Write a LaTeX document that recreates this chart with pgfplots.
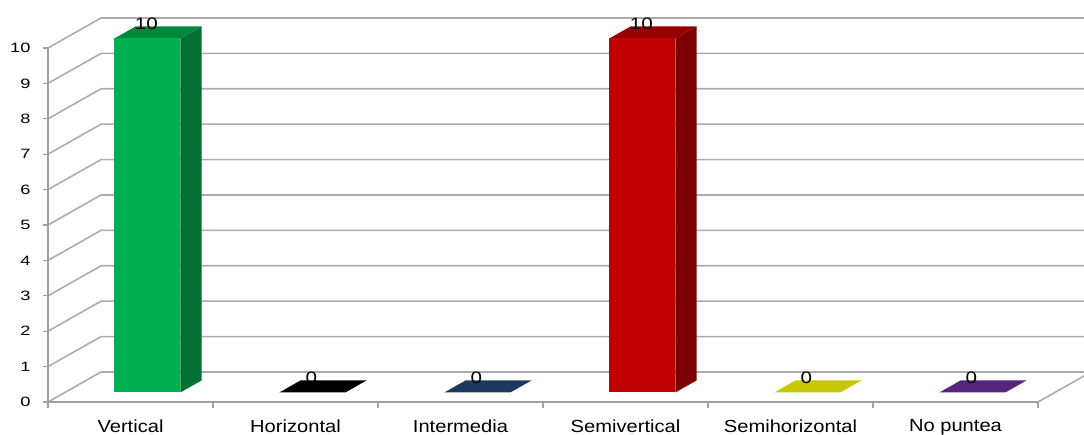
\documentclass[border=0pt]{standalone}
\usepackage{pgfplots}
\pgfplotsset{compat=1.18}
\usepackage{fontspec}
\setmainfont{Liberation Sans}
\newfontfamily\catfont[FakeStretch=1.15]{Liberation Sans}
\newfontfamily\tickfont[FakeStretch=1.35]{Liberation Sans}
\newfontfamily\labfont[FakeStretch=1.25]{Liberation Sans}
\definecolor{gridc}{RGB}{172,172,172}
\definecolor{axc}{RGB}{160,160,160}
\definecolor{gfront}{RGB}{0,176,80}
\definecolor{gtop}{RGB}{0,135,62}
\definecolor{gside}{RGB}{0,112,51}
\definecolor{rfront}{RGB}{192,0,0}
\definecolor{rtop}{RGB}{150,0,0}
\definecolor{rside}{RGB}{125,0,0}
\definecolor{ktop}{RGB}{0,0,0}
\definecolor{btop}{RGB}{27,56,95}
\definecolor{ytop}{RGB}{200,200,0}
\definecolor{ptop}{RGB}{86,37,125}
\begin{document}
\begin{tikzpicture}[x=1pt,y=1pt]
% ---------- 3D part: walls, floor and bars ----------
\begin{axis}[
  x={(165pt,0pt)}, y={(53pt,30pt)}, z={(0pt,35.4pt)},
  xmin=0, xmax=6, ymin=0, ymax=1, zmin=0, zmax=10,
  hide axis, clip=false,
  anchor=origin, at={(48pt,32pt)},
]
\pgfplotsinvokeforeach{0,...,10}{
  \addplot3[gridc, line width=1.6pt, forget plot] coordinates {(0,0,#1) (0,1,#1) (6.2,1,#1)};
}
\addplot3[gridc, line width=1.6pt, forget plot] coordinates {(6,0,0) (6,1,0)};
% Vertical = 10
\addplot3[fill=gside, draw=none] coordinates {(0.7,0.32,0) (0.7,0.72,0) (0.7,0.72,10) (0.7,0.32,10)} -- cycle;
\addplot3[fill=gtop, draw=none] coordinates {(0.3,0.32,10) (0.7,0.32,10) (0.7,0.72,10) (0.3,0.72,10)} -- cycle;
\addplot3[fill=gfront, draw=none] coordinates {(0.3,0.32,0) (0.7,0.32,0) (0.7,0.32,10) (0.3,0.32,10)} -- cycle;
% Horizontal = 0
\addplot3[fill=ktop, draw=none] coordinates {(1.3,0.32,0) (1.7,0.32,0) (1.7,0.72,0) (1.3,0.72,0)} -- cycle;
% Intermedia = 0
\addplot3[fill=btop, draw=none] coordinates {(2.3,0.32,0) (2.7,0.32,0) (2.7,0.72,0) (2.3,0.72,0)} -- cycle;
% Semivertical = 10
\addplot3[fill=rside, draw=none] coordinates {(3.7,0.32,0) (3.7,0.72,0) (3.7,0.72,10) (3.7,0.32,10)} -- cycle;
\addplot3[fill=rtop, draw=none] coordinates {(3.3,0.32,10) (3.7,0.32,10) (3.7,0.72,10) (3.3,0.72,10)} -- cycle;
\addplot3[fill=rfront, draw=none] coordinates {(3.3,0.32,0) (3.7,0.32,0) (3.7,0.32,10) (3.3,0.32,10)} -- cycle;
% Semihorizontal = 0
\addplot3[fill=ytop, draw=none] coordinates {(4.3,0.32,0) (4.7,0.32,0) (4.7,0.72,0) (4.3,0.72,0)} -- cycle;
% No puntea = 0
\addplot3[fill=ptop, draw=none] coordinates {(5.3,0.32,0) (5.7,0.32,0) (5.7,0.72,0) (5.3,0.72,0)} -- cycle;
% value labels
\begin{scope}[every node/.style={anchor=base, yshift=8.5pt, xshift=-1pt, inner sep=0pt, font=\labfont\fontsize{16.5}{17}\selectfont}]
\node at (axis cs:0.5,0.32,10) {10};
\node at (axis cs:1.5,0.32,0) {0};
\node at (axis cs:2.5,0.32,0) {0};
\node at (axis cs:3.5,0.32,10) {10};
\node at (axis cs:4.5,0.32,0) {0};
\node at (axis cs:5.5,0.32,0) {0};
\end{scope}
\end{axis}
% ---------- 2D front: axis lines, ticks, labels ----------
\begin{axis}[
  x=165pt, y=35.4pt,
  xmin=0, xmax=6, ymin=0, ymax=10,
  anchor=origin, at={(48pt,32pt)},
  axis x line*=bottom, axis y line*=left,
  axis line style={draw=axc, line width=1.4pt},
  xtick={0.5,1.5,2.5,3.5,4.5,5.5},
  xticklabels={Vertical,Horizontal,Intermedia,Semivertical,Semihorizontal,No puntea},
  major x tick style={draw=none},
  minor xtick={0,1,2,3,4,5,6},
  ytick={0,1,...,10},
  tick align=outside,
  tick style={draw=axc, line width=1.2pt},
  major tick length=5pt, minor tick length=6pt,
  xticklabel style={font=\catfont\fontsize{17.5}{18}\selectfont, yshift=-9pt},
  yticklabel style={font=\tickfont\fontsize{13.5}{14}\selectfont, xshift=-9pt},
  /pgf/number format/assume math mode=true,
  clip=false,
]
\addplot[draw=none, forget plot] coordinates {(0,0)};
\end{axis}
\pgfresetboundingbox
\path[use as bounding box] (0,0) rectangle (1084,434);
\end{tikzpicture}
\end{document}
